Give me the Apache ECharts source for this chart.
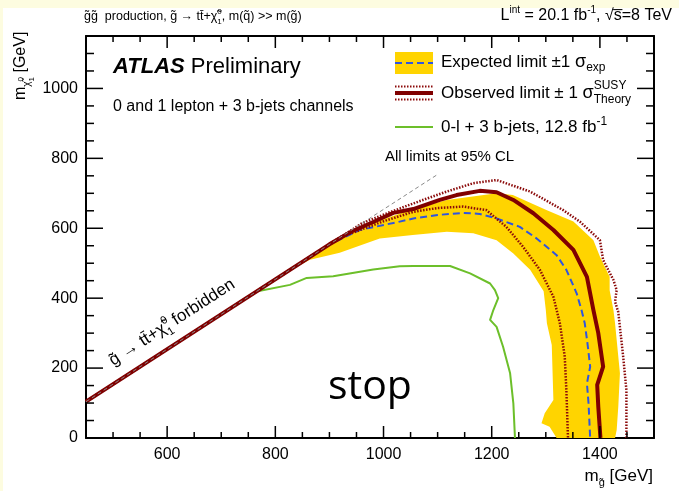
<!DOCTYPE html>
<html>
<head>
<meta charset="utf-8">
<script src="https://cdn.jsdelivr.net/npm/echarts@6/dist/echarts.min.js"></script>
<style>
  html, body { margin: 0; padding: 0; background: #fdfce0; }
  #chart { position: absolute; left: 0; top: 0; width: 679px; height: 491px; }
</style>
</head>
<body>
<div id="chart"></div>
<script>
// Exclusion limits in the (m_gluino, m_neutralino) plane, both in GeV.

// Kinematic boundary m(chi) = m(gluino) - 2 m(top)
const kinematicEdge = [[450, 104], [1100, 754]];

// Observed 95% CL limit
const observed = [[450, 104], [900, 554], [940, 590], [981, 618], [1018, 644], [1055, 655], [1104, 681],
  [1135, 695], [1178, 707], [1209, 703], [1240, 681], [1277, 643], [1314, 595], [1351, 538],
  [1376, 461], [1388, 366], [1397, 300], [1406, 204], [1395, 152], [1397, 90], [1401, 0]];

// Observed limit, theory +1 sigma
const observedUp = [[450, 104], [960, 614], [1010, 645], [1055, 671], [1117, 705], [1166, 729],
  [1209, 738], [1271, 705], [1332, 652], [1363, 619], [1400, 566], [1406, 509], [1425, 452],
  [1431, 423], [1428, 390], [1434, 360], [1443, 233], [1449, 137], [1449, 0]];

// Observed limit, theory -1 sigma
const observedDown = [[450, 104], [920, 574], [1000, 620], [1055, 647], [1100, 658], [1147, 662],
  [1190, 652], [1227, 604], [1258, 547], [1289, 481], [1314, 404], [1320, 366], [1326, 328],
  [1335, 233], [1338, 137], [1341, 0]];

// Expected limit
const expected = [[450, 104], [900, 554], [956, 595], [1030, 619], [1055, 628], [1100, 638],
  [1147, 644], [1178, 641], [1209, 628], [1252, 604], [1283, 571], [1320, 523], [1338, 481],
  [1357, 414], [1366, 366], [1372, 328], [1377, 271], [1382, 204], [1376, 156], [1379, 99], [1382, 0]];

// Expected limit +1 sigma (outer edge of the band)
const expectedUp = [[820, 474], [930, 584], [993, 622], [1055, 655], [1117, 681], [1209, 700],
  [1239, 695], [1301, 652], [1351, 619], [1388, 566], [1400, 519], [1418, 461], [1418, 423],
  [1425, 366], [1428, 328], [1437, 185], [1434, 90], [1431, 23], [1428, 0]];

// Expected limit -1 sigma (inner edge of the band)
const expectedDown = [[820, 474], [864, 510], [919, 530], [993, 571], [1054, 581], [1117, 590],
  [1166, 586], [1209, 566], [1240, 528], [1271, 481], [1296, 420], [1300, 366], [1302, 328],
  [1311, 266], [1314, 109], [1298, 71], [1292, 42], [1307, 32], [1320, 0]];

// Earlier 0-lepton + 3 b-jets result, 12.8 fb-1
const earlierResult = [[450, 104], [700, 354], [765, 419], [827, 438], [858, 458], [907, 463],
  [981, 482], [1030, 491], [1055, 492], [1123, 492], [1160, 471], [1197, 442], [1206, 423],
  [1212, 400], [1203, 366], [1197, 338], [1209, 318], [1221, 261], [1234, 185], [1240, 99], [1243, 0]];

// Axis ranges and tick labels
const xRange = [450, 1500];
const yRange = [0, 1150];
const xLabels = [600, 800, 1000, 1200, 1400];
const yLabels = [0, 200, 400, 600, 800, 1000];
const minorStep = 50;

function stepValues(lo, hi, step) {
  const out = [];
  for (let v = Math.ceil(lo / step) * step; v <= hi; v += step) out.push(v);
  return out;
}
const xMinor = stepValues(xRange[0], xRange[1], minorStep).filter(v => !xLabels.includes(v));
const yMinor = stepValues(yRange[0], yRange[1], minorStep).filter(v => !yLabels.includes(v));

const FONT = "'Liberation Sans', Arial, Helvetica, sans-serif";
const measureCtx = document.createElement('canvas').getContext('2d');
function textWidth(t, size, o) {
  measureCtx.font = `${o.style || 'normal'} ${o.weight || 'normal'} ${size}px ${o.family || FONT}`;
  return measureCtx.measureText(t).width;
}
// Lays out a run of text pieces (with sub/superscripts) on a common baseline.
// Each piece: [text, fontSize, baselineShift, options]; options.stack puts a piece
// at the same x as the previous one (stacked sub/superscript).
function textRun(x0, base, parts, align) {
  let cx = 0, lastStart = 0, lastEnd = 0;
  const placed = [];
  for (const [t, size, dy, o0] of parts) {
    const o = o0 || {};
    const w = textWidth(t, size, o);
    const sx = o.stack ? lastStart : cx;
    placed.push({ t, size, dy: dy || 0, o, sx });
    lastEnd = o.stack ? Math.max(lastEnd, sx + w) : sx + w;
    lastStart = sx;
    cx = lastEnd;
  }
  const off = align === 'right' ? -cx : align === 'center' ? -cx / 2 : 0;
  return placed.map(p => ({
    type: 'text', silent: true,
    x: x0 + off + p.sx, y: base + p.dy - 0.35 * p.size,
    style: {
      text: p.t, fontSize: p.size, fontFamily: p.o.family || FONT,
      fontWeight: p.o.weight || 'normal', fontStyle: p.o.style || 'normal',
      fill: p.o.color || '#000', textAlign: 'left', textVerticalAlign: 'middle',
      align: 'left', verticalAlign: 'middle'
    }
  }));
}

const C = {
  band: '#ffd400', observed: '#800000', theory: '#8b0a0a',
  expected: '#2f55e0', earlier: '#6cbf2a', edge: '#8a8a8a'
};

const labelStyle = { color: '#000', fontSize: 16, fontFamily: FONT, formatter: v => String(v) };
function xAxisDef(position, withLabels) {
  return {
    type: 'value', position, min: xRange[0], max: xRange[1],
    axisLine: { show: true, onZero: false, lineStyle: { color: '#000', width: 2 } },
    axisTick: { show: false },
    axisLabel: withLabels ? Object.assign({ show: true, customValues: xLabels, margin: 9 }, labelStyle) : { show: false },
    splitLine: { show: false }
  };
}
function yAxisDef(position, withLabels) {
  return {
    type: 'value', position, min: yRange[0], max: yRange[1],
    axisLine: { show: true, onZero: false, lineStyle: { color: '#000', width: 2 } },
    axisTick: { show: false },
    axisLabel: withLabels ? Object.assign({ show: true, customValues: yLabels, margin: 8 }, labelStyle) : { show: false },
    splitLine: { show: false }
  };
}

function lineSeries(name, data, color, width, type, z) {
  return {
    name, type: 'line', data, xAxisIndex: 0, yAxisIndex: 0, showSymbol: false, symbol: 'none',
    smooth: false, clip: true, z, animation: false,
    lineStyle: { color, width, type, cap: 'butt', join: 'round' }
  };
}

const bandPolygon = expectedUp.concat(expectedDown.slice().reverse());

// inward-pointing ticks on all four sides of the frame
const tickSpec = { xMajor: 12, xMinor: 6, yMajor: 17, yMinor: 8 };
function frameTicks(params, api) {
  const lines = [];
  const add = (a, b) => lines.push({
    type: 'line', shape: { x1: a[0], y1: a[1], x2: b[0], y2: b[1] },
    style: { stroke: '#000', lineWidth: 1.5 }
  });
  const xTick = (v, len) => {
    const lo = api.coord([v, yRange[0]]), hi = api.coord([v, yRange[1]]);
    add(lo, [lo[0], lo[1] - len]);
    add(hi, [hi[0], hi[1] + len]);
  };
  const yTick = (v, len) => {
    const l = api.coord([xRange[0], v]), r = api.coord([xRange[1], v]);
    add(l, [l[0] + len, l[1]]);
    add(r, [r[0] - len, r[1]]);
  };
  xLabels.forEach(v => xTick(v, tickSpec.xMajor));
  xMinor.forEach(v => xTick(v, tickSpec.xMinor));
  yLabels.forEach(v => yTick(v, tickSpec.yMajor));
  yMinor.forEach(v => yTick(v, tickSpec.yMinor));
  return { type: 'group', children: lines };
}

const graphics = [];
// white page panel
graphics.push({ type: 'rect', z: -10, silent: true, shape: { x: 3, y: 8, width: 676, height: 483 }, style: { fill: '#ffffff' } });

// header lines
graphics.push(...textRun(84, 21, [
  ['g\u0303g\u0303  production, g\u0303 \u2192 tt\u0304+\u03c7\u0303', 12.5],
  ['0', 8, -6], ['1', 8, 4, { stack: true }],
  [', m(q\u0303) >> m(g\u0303)', 12.5]
]));
graphics.push(...textRun(672, 21, [
  ['L', 16], ['int', 10, -7], [' = 20.1 fb', 16], ['-1', 10, -7], [', \u221as\u0305=8 TeV', 16]
], 'right'));

// ATLAS label block
graphics.push(...textRun(113, 75, [['ATLAS', 22, 0, { weight: 'bold', style: 'italic' }], [' Preliminary', 22]]));
graphics.push(...textRun(113, 112, [['0 and 1 lepton + 3 b-jets channels', 16]]));

// legend
graphics.push({ type: 'rect', silent: true, shape: { x: 395, y: 52, width: 38, height: 22 }, style: { fill: C.band } });
graphics.push({ type: 'line', silent: true, shape: { x1: 395, y1: 63, x2: 433, y2: 63 }, style: { stroke: C.expected, lineWidth: 2, lineDash: [7, 4] } });
graphics.push({ type: 'line', silent: true, shape: { x1: 395, y1: 93, x2: 433, y2: 93 }, style: { stroke: C.observed, lineWidth: 4 } });
graphics.push({ type: 'line', silent: true, shape: { x1: 395, y1: 86.5, x2: 433, y2: 86.5 }, style: { stroke: C.theory, lineWidth: 2, lineDash: [1.5, 1.5] } });
graphics.push({ type: 'line', silent: true, shape: { x1: 395, y1: 99.5, x2: 433, y2: 99.5 }, style: { stroke: C.theory, lineWidth: 2, lineDash: [1.5, 1.5] } });
graphics.push({ type: 'line', silent: true, shape: { x1: 395, y1: 127, x2: 433, y2: 127 }, style: { stroke: C.earlier, lineWidth: 2 } });
graphics.push(...textRun(441, 68, [['Expected limit \u00b11 ', 17], ['\u03c3', 18], ['exp', 12, 4]]));
graphics.push(...textRun(441, 99, [['Observed limit \u00b1 1 ', 17], ['\u03c3', 18], ['SUSY', 12, -9], ['Theory', 12, 5, { stack: true }]]));
graphics.push(...textRun(441, 133, [['0-l + 3 b-jets, 12.8 fb', 17], ['-1', 12, -7]]));
graphics.push(...textRun(385, 162, [['All limits at 95% CL', 15]]));

// forbidden-region label along the kinematic edge
graphics.push({
  type: 'group', x: 114, y: 367, rotation: Math.atan(0.646), silent: true,
  children: textRun(0, 0, [
    ['g\u0303 \u2192 tt\u0304+\u03c7\u0303', 17], ['0', 11, -8], ['1', 11, 5, { stack: true }], [' forbidden', 17]
  ])
});

// "stop" tag
graphics.push(...textRun(370, 402, [['stop', 41, 0, { family: "'Open Sans', Lato, sans-serif" }]], 'center'));

// axis titles
graphics.push(...textRun(653, 482, [['m', 17], ['g\u0303', 11, 5], [' [GeV]', 17]], 'right'));
graphics.push({
  type: 'group', x: 26, y: 100, rotation: Math.PI / 2, silent: true,
  children: textRun(0, 0, [['m', 16], ['\u03c7\u0303', 10, 5], ['0', 8, -2], ['1', 8, 9, { stack: true }], [' [GeV]', 16]])
});

const chart = echarts.init(document.getElementById('chart'), null, { renderer: 'canvas' });
chart.setOption({
  backgroundColor: 'transparent',
  animation: false,
  grid: { left: 86, right: 25, top: 36, bottom: 53, containLabel: false },
  xAxis: [xAxisDef('bottom', true), xAxisDef('top', false)],
  yAxis: [yAxisDef('left', true), yAxisDef('right', false)],
  series: [
    {
      name: 'Expected band', type: 'custom', xAxisIndex: 0, yAxisIndex: 0, z: 1, clip: true,
      data: bandPolygon,
      renderItem(params, api) {
        if (params.dataIndex !== 0) return null;
        return {
          type: 'polygon',
          shape: { points: bandPolygon.map(p => api.coord(p)) },
          style: { fill: C.band }
        };
      }
    },
    lineSeries('0-l + 3 b-jets, 12.8 fb-1', earlierResult, C.earlier, 2, 'solid', 2),
    lineSeries('Expected limit', expected, C.expected, 2, [7, 4], 3),
    lineSeries('Observed +1 sigma', observedUp, C.theory, 2.5, [1.5, 1.5], 4),
    lineSeries('Observed -1 sigma', observedDown, C.theory, 2.5, [1.5, 1.5], 4),
    lineSeries('Observed limit', observed, C.observed, 4, 'solid', 5),
    lineSeries('Kinematic limit', kinematicEdge, C.edge, 1, [4, 3], 6),
    {
      name: 'Frame ticks', type: 'custom', xAxisIndex: 0, yAxisIndex: 0, z: 10, clip: false, silent: true,
      data: [[xRange[0], yRange[0]]],
      renderItem: frameTicks
    }
  ],
  graphic: { elements: graphics }
});
</script>
</body>
</html>
